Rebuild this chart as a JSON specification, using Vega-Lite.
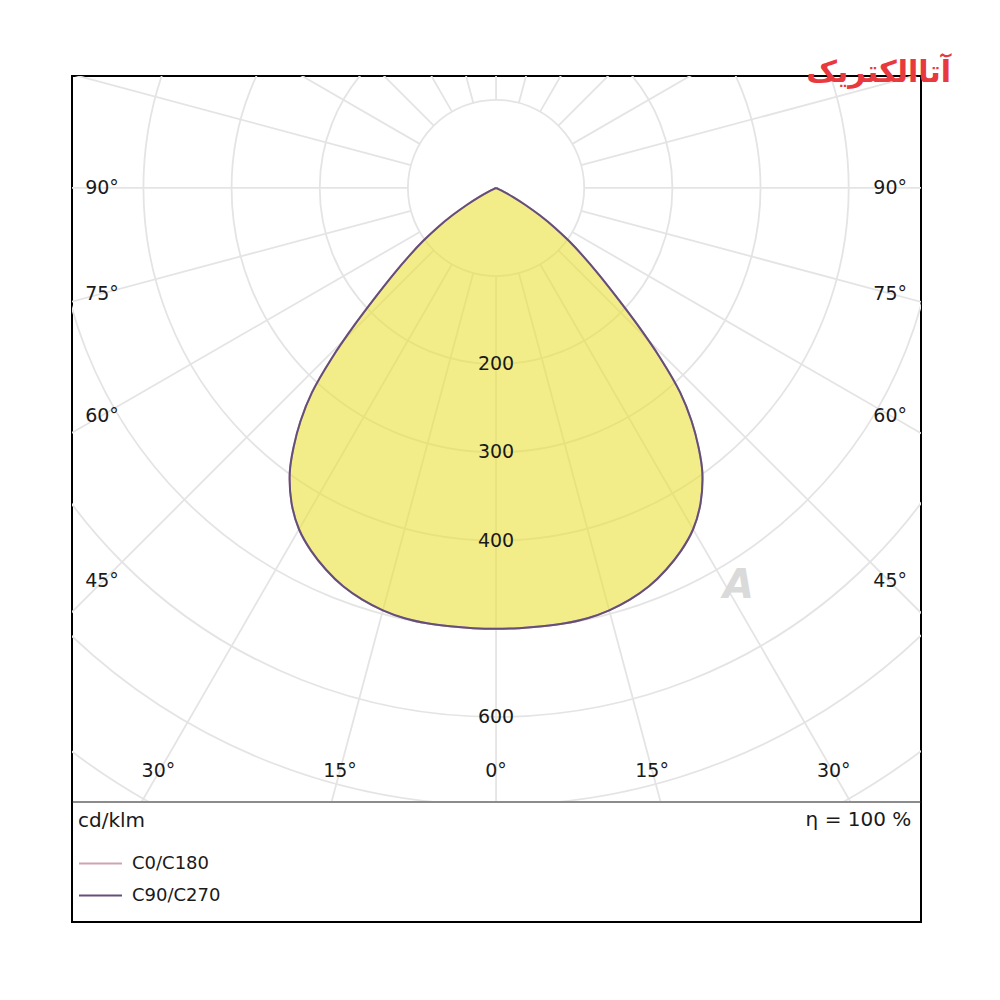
{
  "$schema": "https://vega.github.io/schema/vega-lite/v6.json",
  "padding": {"left": 70, "top": 57, "right": 0, "bottom": 0},
  "background": "#ffffff",
  "spacing": 0,
  "bounds": "flush",
  "config": {
    "view": {"stroke": "#000000", "strokeWidth": 2},
    "text": {"font": "DejaVu Sans"}
  },
  "datasets": {
    "rings": [{"r": 100}, {"r": 200}, {"r": 300}, {"r": 400}, {"r": 500}, {"r": 600}, {"r": 700}, {"r": 800}, {"r": 900}, {"r": 1000}],
    "spokes": [
      {"a": 0, "r0": 100, "r1": 1200}, {"a": 15, "r0": 100, "r1": 1200}, {"a": 30, "r0": 100, "r1": 1200}, {"a": 45, "r0": 100, "r1": 1200},
      {"a": 60, "r0": 100, "r1": 1200}, {"a": 75, "r0": 100, "r1": 1200}, {"a": 90, "r0": 100, "r1": 1200}, {"a": 105, "r0": 100, "r1": 1200},
      {"a": 120, "r0": 100, "r1": 1200}, {"a": 135, "r0": 100, "r1": 1200}, {"a": 150, "r0": 100, "r1": 1200}, {"a": 165, "r0": 100, "r1": 1200},
      {"a": 180, "r0": 100, "r1": 1200}, {"a": 195, "r0": 100, "r1": 1200}, {"a": 210, "r0": 100, "r1": 1200}, {"a": 225, "r0": 100, "r1": 1200},
      {"a": 240, "r0": 100, "r1": 1200}, {"a": 255, "r0": 100, "r1": 1200}, {"a": 270, "r0": 100, "r1": 1200}, {"a": 285, "r0": 100, "r1": 1200},
      {"a": 300, "r0": 100, "r1": 1200}, {"a": 315, "r0": 100, "r1": 1200}, {"a": 330, "r0": 100, "r1": 1200}, {"a": 345, "r0": 100, "r1": 1200}
    ],
    "curve": [
      {"s": "C0/C180", "a": -68, "I": 0}, {"s": "C0/C180", "a": -66, "I": 3}, {"s": "C0/C180", "a": -64, "I": 10}, {"s": "C0/C180", "a": -62, "I": 22},
      {"s": "C0/C180", "a": -60, "I": 38}, {"s": "C0/C180", "a": -58, "I": 58}, {"s": "C0/C180", "a": -56, "I": 80}, {"s": "C0/C180", "a": -54, "I": 102},
      {"s": "C0/C180", "a": -52, "I": 125}, {"s": "C0/C180", "a": -50, "I": 151}, {"s": "C0/C180", "a": -48, "I": 182}, {"s": "C0/C180", "a": -46, "I": 222},
      {"s": "C0/C180", "a": -44, "I": 268}, {"s": "C0/C180", "a": -42, "I": 312}, {"s": "C0/C180", "a": -40, "I": 345}, {"s": "C0/C180", "a": -38, "I": 373},
      {"s": "C0/C180", "a": -36, "I": 398}, {"s": "C0/C180", "a": -33, "I": 426}, {"s": "C0/C180", "a": -30, "I": 447}, {"s": "C0/C180", "a": -27, "I": 462},
      {"s": "C0/C180", "a": -24, "I": 474}, {"s": "C0/C180", "a": -21, "I": 484}, {"s": "C0/C180", "a": -18, "I": 491}, {"s": "C0/C180", "a": -15, "I": 496},
      {"s": "C0/C180", "a": -12, "I": 499}, {"s": "C0/C180", "a": -9, "I": 500}, {"s": "C0/C180", "a": -6, "I": 500}, {"s": "C0/C180", "a": -3, "I": 500},
      {"s": "C0/C180", "a": 0, "I": 500},
      {"s": "C0/C180", "a": 3, "I": 500}, {"s": "C0/C180", "a": 6, "I": 500}, {"s": "C0/C180", "a": 9, "I": 500}, {"s": "C0/C180", "a": 12, "I": 499},
      {"s": "C0/C180", "a": 15, "I": 496}, {"s": "C0/C180", "a": 18, "I": 491}, {"s": "C0/C180", "a": 21, "I": 484}, {"s": "C0/C180", "a": 24, "I": 474},
      {"s": "C0/C180", "a": 27, "I": 462}, {"s": "C0/C180", "a": 30, "I": 447}, {"s": "C0/C180", "a": 33, "I": 426}, {"s": "C0/C180", "a": 36, "I": 398},
      {"s": "C0/C180", "a": 38, "I": 373}, {"s": "C0/C180", "a": 40, "I": 345}, {"s": "C0/C180", "a": 42, "I": 312}, {"s": "C0/C180", "a": 44, "I": 268},
      {"s": "C0/C180", "a": 46, "I": 222}, {"s": "C0/C180", "a": 48, "I": 182}, {"s": "C0/C180", "a": 50, "I": 151}, {"s": "C0/C180", "a": 52, "I": 125},
      {"s": "C0/C180", "a": 54, "I": 102}, {"s": "C0/C180", "a": 56, "I": 80}, {"s": "C0/C180", "a": 58, "I": 58}, {"s": "C0/C180", "a": 60, "I": 38},
      {"s": "C0/C180", "a": 62, "I": 22}, {"s": "C0/C180", "a": 64, "I": 10}, {"s": "C0/C180", "a": 66, "I": 3}, {"s": "C0/C180", "a": 68, "I": 0},
      {"s": "C90/C270", "a": -68, "I": 0}, {"s": "C90/C270", "a": -66, "I": 3}, {"s": "C90/C270", "a": -64, "I": 10}, {"s": "C90/C270", "a": -62, "I": 22},
      {"s": "C90/C270", "a": -60, "I": 38}, {"s": "C90/C270", "a": -58, "I": 58}, {"s": "C90/C270", "a": -56, "I": 80}, {"s": "C90/C270", "a": -54, "I": 102},
      {"s": "C90/C270", "a": -52, "I": 125}, {"s": "C90/C270", "a": -50, "I": 151}, {"s": "C90/C270", "a": -48, "I": 182}, {"s": "C90/C270", "a": -46, "I": 222},
      {"s": "C90/C270", "a": -44, "I": 268}, {"s": "C90/C270", "a": -42, "I": 312}, {"s": "C90/C270", "a": -40, "I": 345}, {"s": "C90/C270", "a": -38, "I": 373},
      {"s": "C90/C270", "a": -36, "I": 398}, {"s": "C90/C270", "a": -33, "I": 426}, {"s": "C90/C270", "a": -30, "I": 447}, {"s": "C90/C270", "a": -27, "I": 462},
      {"s": "C90/C270", "a": -24, "I": 474}, {"s": "C90/C270", "a": -21, "I": 484}, {"s": "C90/C270", "a": -18, "I": 491}, {"s": "C90/C270", "a": -15, "I": 496},
      {"s": "C90/C270", "a": -12, "I": 499}, {"s": "C90/C270", "a": -9, "I": 500}, {"s": "C90/C270", "a": -6, "I": 500}, {"s": "C90/C270", "a": -3, "I": 500},
      {"s": "C90/C270", "a": 0, "I": 500},
      {"s": "C90/C270", "a": 3, "I": 500}, {"s": "C90/C270", "a": 6, "I": 500}, {"s": "C90/C270", "a": 9, "I": 500}, {"s": "C90/C270", "a": 12, "I": 499},
      {"s": "C90/C270", "a": 15, "I": 496}, {"s": "C90/C270", "a": 18, "I": 491}, {"s": "C90/C270", "a": 21, "I": 484}, {"s": "C90/C270", "a": 24, "I": 474},
      {"s": "C90/C270", "a": 27, "I": 462}, {"s": "C90/C270", "a": 30, "I": 447}, {"s": "C90/C270", "a": 33, "I": 426}, {"s": "C90/C270", "a": 36, "I": 398},
      {"s": "C90/C270", "a": 38, "I": 373}, {"s": "C90/C270", "a": 40, "I": 345}, {"s": "C90/C270", "a": 42, "I": 312}, {"s": "C90/C270", "a": 44, "I": 268},
      {"s": "C90/C270", "a": 46, "I": 222}, {"s": "C90/C270", "a": 48, "I": 182}, {"s": "C90/C270", "a": 50, "I": 151}, {"s": "C90/C270", "a": 52, "I": 125},
      {"s": "C90/C270", "a": 54, "I": 102}, {"s": "C90/C270", "a": 56, "I": 80}, {"s": "C90/C270", "a": 58, "I": 58}, {"s": "C90/C270", "a": 60, "I": 38},
      {"s": "C90/C270", "a": 62, "I": 22}, {"s": "C90/C270", "a": 64, "I": 10}, {"s": "C90/C270", "a": 66, "I": 3}, {"s": "C90/C270", "a": 68, "I": 0}
    ],
    "labels": [
      {"t": "90°", "x": -447, "y": 0}, {"t": "90°", "x": 447, "y": 0},
      {"t": "75°", "x": -447, "y": -120}, {"t": "75°", "x": 447, "y": -120},
      {"t": "60°", "x": -447, "y": -259}, {"t": "60°", "x": 447, "y": -259},
      {"t": "45°", "x": -447, "y": -446}, {"t": "45°", "x": 447, "y": -446},
      {"t": "30°", "x": -383, "y": -661}, {"t": "30°", "x": 383, "y": -661},
      {"t": "15°", "x": -177, "y": -661}, {"t": "15°", "x": 177, "y": -661},
      {"t": "0°", "x": 0, "y": -661},
      {"t": "200", "x": 0, "y": -200}, {"t": "300", "x": 0, "y": -300},
      {"t": "400", "x": 0, "y": -400}, {"t": "600", "x": 0, "y": -600}
    ],
    "brand": [{"t": "آتاالکتریک", "x": 434, "y": 130}],
    "mark": [{"t": "A", "x": 275, "y": -452}],
    "foot": [{"t": "η = 100 %", "x": 471, "y": -717}],
    "divider": [{"x0": -480, "x1": 481, "y": -696.5}]
  },
  "vconcat": [
    {
      "width": 849,
      "height": 726,
      "layer": [
        {
          "data": {"name": "rings"},
          "mark": {"type": "arc", "theta": 0, "theta2": 6.3, "filled": false, "stroke": "#e4e4e4", "strokeWidth": 1.8, "clip": true},
          "encoding": {
            "x": {"datum": 0, "type": "quantitative", "scale": {"domain": [-481, 482], "nice": false, "zero": false}, "axis": null},
            "y": {"datum": 0, "type": "quantitative", "scale": {"domain": [-696.5, 127], "nice": false, "zero": false}, "axis": null},
            "radius": {"field": "r", "type": "quantitative", "stack": null, "scale": {"type": "linear", "domain": [0, 1000], "range": [0, 881.6]}, "legend": null}
          }
        },
        {
          "data": {"name": "spokes"},
          "transform": [
            {"calculate": "datum.r0*sin(datum.a*PI/180)", "as": "x0"},
            {"calculate": "-datum.r0*cos(datum.a*PI/180)", "as": "y0"},
            {"calculate": "datum.r1*sin(datum.a*PI/180)", "as": "x1"},
            {"calculate": "-datum.r1*cos(datum.a*PI/180)", "as": "y1"}
          ],
          "mark": {"type": "rule", "stroke": "#e4e4e4", "strokeWidth": 1.8, "clip": true},
          "encoding": {
            "x": {"field": "x0", "type": "quantitative", "scale": {"domain": [-481, 482], "nice": false, "zero": false}, "axis": null},
            "y": {"field": "y0", "type": "quantitative", "scale": {"domain": [-696.5, 127], "nice": false, "zero": false}, "axis": null},
            "x2": {"field": "x1"},
            "y2": {"field": "y1"}
          }
        },
        {
          "data": {"name": "curve"},
          "transform": [
            {"filter": "datum.s == 'C0/C180'"},
            {"calculate": "datum.I*sin(datum.a*PI/180)", "as": "px"},
            {"calculate": "-datum.I*cos(datum.a*PI/180)", "as": "py"}
          ],
          "mark": {"type": "line", "fill": "#ebe13a", "fillOpacity": 0.6, "strokeWidth": 0, "strokeOpacity": 0, "interpolate": "catmull-rom"},
          "encoding": {
            "x": {"field": "px", "type": "quantitative", "scale": {"domain": [-481, 482], "nice": false, "zero": false}, "axis": null},
            "y": {"field": "py", "type": "quantitative", "scale": {"domain": [-696.5, 127], "nice": false, "zero": false}, "axis": null},
            "order": {"field": "a", "type": "quantitative"}
          }
        },
        {
          "data": {"name": "curve"},
          "transform": [
            {"calculate": "datum.I*sin(datum.a*PI/180)", "as": "px"},
            {"calculate": "-datum.I*cos(datum.a*PI/180)", "as": "py"}
          ],
          "mark": {"type": "line", "strokeWidth": 2, "interpolate": "catmull-rom"},
          "encoding": {
            "x": {"field": "px", "type": "quantitative", "scale": {"domain": [-481, 482], "nice": false, "zero": false}, "axis": null},
            "y": {"field": "py", "type": "quantitative", "scale": {"domain": [-696.5, 127], "nice": false, "zero": false}, "axis": null},
            "order": {"field": "a", "type": "quantitative"},
            "color": {
              "field": "s",
              "type": "nominal",
              "scale": {"domain": ["C0/C180", "C90/C270"], "range": ["#cfa3b6", "#644f78"]},
              "legend": {
                "title": "cd/klm",
                "orient": "none",
                "legendX": 6,
                "legendY": 735,
                "direction": "vertical",
                "padding": 0,
                "titleFont": "DejaVu Sans",
                "titleFontSize": 20,
                "titleFontWeight": "normal",
                "titleColor": "#1a1a1a",
                "titlePadding": 10,
                "labelFont": "DejaVu Sans",
                "labelFontSize": 18,
                "labelColor": "#1a1a1a",
                "symbolType": "stroke",
                "symbolSize": 1849,
                "symbolStrokeWidth": 2,
                "labelOffset": 9,
                "rowPadding": 0
              }
            }
          }
        },
        {
          "data": {"name": "labels"},
          "mark": {"type": "text", "fontSize": 19, "color": "#1a1a1a", "align": "center", "baseline": "middle"},
          "encoding": {
            "x": {"field": "x", "type": "quantitative", "scale": {"domain": [-481, 482], "nice": false, "zero": false}, "axis": null},
            "y": {"field": "y", "type": "quantitative", "scale": {"domain": [-696.5, 127], "nice": false, "zero": false}, "axis": null},
            "text": {"field": "t"}
          }
        },
        {
          "data": {"name": "mark"},
          "mark": {"type": "text", "fontSize": 40, "fontWeight": "bold", "fontStyle": "italic", "color": "#dadada", "align": "center", "baseline": "middle"},
          "encoding": {
            "x": {"field": "x", "type": "quantitative", "scale": {"domain": [-481, 482], "nice": false, "zero": false}, "axis": null},
            "y": {"field": "y", "type": "quantitative", "scale": {"domain": [-696.5, 127], "nice": false, "zero": false}, "axis": null},
            "text": {"field": "t"}
          }
        },
        {
          "data": {"name": "brand"},
          "mark": {"type": "text", "fontSize": 30, "fontWeight": "bold", "color": "#e8393e", "align": "center", "baseline": "middle"},
          "encoding": {
            "x": {"field": "x", "type": "quantitative", "scale": {"domain": [-481, 482], "nice": false, "zero": false}, "axis": null},
            "y": {"field": "y", "type": "quantitative", "scale": {"domain": [-696.5, 127], "nice": false, "zero": false}, "axis": null},
            "text": {"field": "t"}
          }
        }
      ]
    },
    {
      "width": 849,
      "height": 120,
      "layer": [
        {
          "data": {"name": "divider"},
          "mark": {"type": "rule", "stroke": "#8c8c8c", "strokeWidth": 2},
          "encoding": {
            "x": {"field": "x0", "type": "quantitative", "scale": {"domain": [-481, 482], "nice": false, "zero": false}, "axis": null},
            "x2": {"field": "x1"},
            "y": {"field": "y", "type": "quantitative", "scale": {"domain": [-833, -696.5], "nice": false, "zero": false}, "axis": null}
          }
        },
        {
          "data": {"name": "foot"},
          "mark": {"type": "text", "fontSize": 20, "color": "#1a1a1a", "align": "right", "baseline": "middle"},
          "encoding": {
            "x": {"field": "x", "type": "quantitative", "scale": {"domain": [-481, 482], "nice": false, "zero": false}, "axis": null},
            "y": {"field": "y", "type": "quantitative", "scale": {"domain": [-833, -696.5], "nice": false, "zero": false}, "axis": null},
            "text": {"field": "t"}
          }
        }
      ]
    }
  ]
}
